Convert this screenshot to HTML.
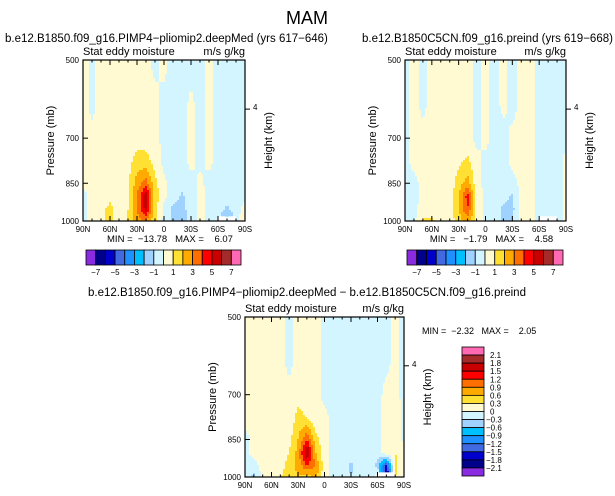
<!DOCTYPE html>
<html><head><meta charset="utf-8"><style>
body{margin:0;background:#fff}
svg{display:block;font-family:"Liberation Sans",sans-serif}
text{white-space:pre}
</style></head><body>
<svg id="fig" width="615" height="496" viewBox="0 0 615 496">
<text x="307" y="24" font-size="18" text-anchor="middle">MAM</text>
<text x="5" y="42" font-size="11.5">b.e12.B1850.f09_g16.PIMP4−pliomip2.deepMed (yrs 617−646)</text>
<text x="362" y="42" font-size="11.5">b.e12.B1850C5CN.f09_g16.preind (yrs 619−668)</text>
<text x="307" y="296" font-size="11.5" text-anchor="middle">b.e12.B1850.f09_g16.PIMP4−pliomip2.deepMed − b.e12.B1850C5CN.f09_g16.preind</text>
<text x="422" y="334" font-size="9">MIN =  −2.32   MAX =    2.05</text>
</svg>
<script>
const lats=[90,80,70,60,50,40,30,20,10,0,-10,-20,-30,-40,-50,-60,-70,-80,-90];
const levels=[500,600,700,775,850,900,950,1000];
const xTickLabels=["90N","60N","30N","0","30S","60S","90S"];
const yTickLabels=[500,700,850,1000];
const colors=["#8a2be2","#00008b","#0000cd","#4169e1","#1e90ff","#00bfff","#a0d2ff","#d2f5ff","#fffad2","#ffe033","#ffaa00","#ff6e00","#ff0000","#c80000","#a52a2a","#ff69b4"];
const barTop=["−7","−5","−3","−1","1","3","5","7"];
const barDiff=["2.1","1.8","1.5","1.2","0.9","0.6","0.3","0","−0.3","−0.6","−0.9","−1.2","−1.5","−1.8","−2.1"];
const fieldA=[
[0.4,-0.3,0.4,0.4,0.4,0.4,0.4,0.3,-0.3,0.3,-0.4,-0.4,-0.4,-0.4,0.2,-0.4,-0.4,-0.4,-0.4],
[0.4,-0.3,0.4,0.4,0.4,0.4,0.4,0.3,0.3,-0.3,-0.4,-0.4,0.2,-0.4,0.3,-0.4,-0.4,-0.4,-0.4],
[0.4,0.3,0.4,0.4,0.4,0.4,0.5,0.5,0.3,-0.3,-0.4,-0.4,0.3,-0.4,0.3,-0.4,-0.4,-0.4,-0.4],
[0.3,0.3,0.4,0.4,0.5,0.6,1.5,1.4,0.6,-0.3,-0.4,-0.4,0.3,-0.3,0.3,-0.4,-0.4,-0.4,-0.4],
[0.2,0.3,0.4,0.5,0.6,0.8,2.5,3.5,1.3,0.2,-0.4,-0.5,-0.4,0.3,-0.4,-0.4,-0.4,-0.5,-0.3],
[-0.3,0.3,0.5,0.8,0.6,0.8,3,6,1.5,0.3,-0.6,-1.2,-0.5,0.3,-0.3,-0.4,-0.7,-0.5,-0.3],
[-0.3,0.4,0.8,1.2,0.7,1.0,3,5.5,1.5,-0.3,-1.2,-1.3,-0.6,0.3,-0.3,-0.4,-1.2,-0.5,0.5],
[-0.3,0.3,0.8,1.3,0.6,1.1,2.5,3,1.2,-0.4,-1.2,-1.3,-0.8,0.3,-0.3,-0.4,-3,-0.3,0.6]];
const fieldB=[
[-0.3,0.4,-0.3,0.4,0.4,0.4,0.4,0.4,-0.3,0.3,-0.4,0.3,-0.4,0.3,0.3,-0.4,-0.4,-0.4,-0.4],
[-0.3,0.4,-0.3,0.4,0.4,0.4,0.4,0.4,-0.3,0.3,-0.4,0.3,-0.4,0.3,0.3,-0.4,-0.4,-0.4,-0.4],
[-0.3,0.3,0.3,0.4,0.4,0.4,0.4,0.4,-0.3,0.3,-0.4,-0.4,0.3,0.3,0.3,-0.4,-0.4,-0.4,-0.3],
[-0.3,0.3,0.3,0.4,0.4,0.4,0.8,1.2,0.3,-0.3,-0.4,-0.4,0.3,0.3,0.3,-0.4,-0.4,-0.4,0.3],
[-0.3,-0.3,0.3,0.4,0.4,0.4,1.5,2.5,0.4,-0.3,-0.4,-0.4,-0.4,0.3,0.3,-0.4,-0.4,-0.4,0.3],
[-0.3,-0.3,0.3,0.4,0.4,0.4,2,4.5,0.6,-0.3,-0.4,-0.6,-1.2,0.3,0.3,-0.4,-0.5,-0.4,0.3],
[-0.3,-0.3,0.4,0.5,0.4,0.4,2,4,0.8,-0.3,-0.5,-1.2,-1.3,0.3,0.3,-0.4,-0.6,-0.4,0.3],
[-0.3,-0.3,1.2,1.2,0.4,0.4,1.5,2.5,0.6,-0.3,-0.5,-1.1,-1.2,0.3,0.3,-0.4,-0.4,-0.4,0.3]];
const fieldD=[
[0.1,0.1,0.1,0.1,0.1,-0.1,0.1,0.1,0.1,-0.1,-0.1,-0.1,-0.1,-0.1,-0.1,-0.1,-0.1,0.1,-0.1],
[0.1,0.1,0.1,0.1,0.1,-0.1,0.1,0.1,0.1,-0.1,-0.1,-0.1,-0.1,-0.1,-0.1,-0.1,-0.1,0.1,-0.1],
[0.1,0.1,0.1,0.1,0.1,0.1,0.2,0.1,0.1,-0.1,-0.1,-0.1,-0.1,-0.1,-0.1,-0.1,0.1,0.1,-0.1],
[0.1,0.1,0.1,0.1,0.1,0.1,0.4,0.3,0.1,0.1,-0.1,-0.1,-0.1,-0.1,-0.1,-0.1,0.1,0.2,-0.1],
[-0.1,0.1,0.1,0.1,0.1,0.2,0.6,1.2,0.4,0.1,-0.1,-0.1,-0.1,-0.1,-0.1,-0.1,0.1,0.2,-0.1],
[-0.1,0.1,0.1,0.1,0.1,0.3,0.7,1.9,0.6,0.1,-0.1,-0.1,-0.1,-0.1,-0.1,-0.1,0.2,0.3,0.1],
[-0.1,-0.1,0.1,0.3,0.2,0.4,0.7,1.2,0.9,0.1,-0.1,-0.1,-0.4,-0.1,-0.1,-0.4,-1.5,0.4,0.1],
[-0.1,-0.4,0.1,0.3,0.3,0.4,0.6,0.4,0.7,0.1,-0.1,-0.1,-0.3,-0.1,-0.1,0.1,-2.3,0.3,0.1]];

const NS="http://www.w3.org/2000/svg";
const svg=document.getElementById('fig');
function mk(tag,attrs,parent){const e=document.createElementNS(NS,tag);for(const k in attrs)e.setAttribute(k,attrs[k]);(parent||svg).appendChild(e);return e;}
function txt(s,x,y,size,anchor,parent){const t=mk('text',{x:x,y:y,'font-size':size,'text-anchor':anchor||'start'},parent);t.textContent=s;return t;}

function sample(field,lat,p){
  const fx=Math.max(0,Math.min(18,(90-lat)/10)), i=Math.min(17,Math.floor(fx)), tx=fx-i;
  const lp=Math.log(p); let j=0;
  while(j<levels.length-2 && Math.log(levels[j+1])<lp) j++;
  const l0=Math.log(levels[j]), l1=Math.log(levels[j+1]);
  const ty=Math.max(0,Math.min(1,(lp-l0)/(l1-l0)));
  const a=field[j][i]*(1-tx)+field[j][i+1]*tx, b=field[j+1][i]*(1-tx)+field[j+1][i+1]*tx;
  return a*(1-ty)+b*ty;
}
function binTop(v){return Math.max(0,Math.min(15,Math.floor(v)+8));}
function binDiff(v){return Math.max(0,Math.min(15,Math.floor((v+2.1)/0.3+1e-9)+1));}

function panel(name,field,binf,x0,y0,w,h,minmax){
  const g=mk('g',{});
  
  
  const xs=lat=>x0+(90-lat)/180*w;
  const ys=p=>y0+(Math.log(p)-Math.log(500))/(Math.log(1000)-Math.log(500))*h;
  const bg=mk('rect',{x:x0,y:y0,width:w,height:h,fill:colors[7]},g);
  
  
  const step=2;
  const n=Math.ceil(w/step);
  for(let py=0;py<h;py+=step){
    const yc=y0+py+step/2;
    const p=Math.exp(Math.log(500)+(yc-y0)/h*(Math.log(1000)-Math.log(500)));
    const hh=Math.min(step,h-py)+0.5;
    let run=-1,rx=0;
    for(let k=0;k<=n;k++){
      const px=k*step;
      let b=-2;
      if(k<n){const lat=90-(px+step/2)/w*180;b=binf(sample(field,lat,p));}
      if(b!==run){
        if(run>=0){const r=mk('rect',{x:x0+rx,y:y0+py,width:Math.min(px,w)-rx+0.5,height:hh,fill:colors[run]},g);
          
          }
        run=b;rx=px;
      }
    }
  }
  const wb=mk('rect',{x:xs(-60),y:ys(980),width:xs(-80)-xs(-60),height:ys(1000)-ys(980),fill:'#fff'},g);
  
  
  const fr=mk('rect',{x:x0,y:y0,width:w,height:h,fill:'none',stroke:'#000','stroke-width':1.2},g);
  
  
  for(let lat=90;lat>=-90;lat-=10){
    const major=lat%30===0, L=major?5:2.5, x=xs(lat);
    mk('line',{x1:x,y1:y0+h,x2:x,y2:y0+h-L,stroke:'#000'},g);
    mk('line',{x1:x,y1:y0,x2:x,y2:y0+L,stroke:'#000'},g);
  }
  xTickLabels.forEach((s,k)=>{const t=txt(s,xs(90-30*k),y0+h+11,8,'middle',g);
    
    });
  yTickLabels.forEach(p=>{const y=ys(p);mk('line',{x1:x0,y1:y,x2:x0+5,y2:y,stroke:'#000'},g);
    const t=txt(String(p),x0-4,y+3,8,'end',g);
    
    });
  const y4=y0+0.305*h;
  mk('line',{x1:x0+w,y1:y4,x2:x0+w+5,y2:y4,stroke:'#000'},g);
  txt('4',x0+w+8,y4+1,8,'start',g);
  const pt=txt('Pressure (mb)',0,0,11,'middle',g);
  pt.setAttribute('transform',`translate(${x0-29},${y0+h/2}) rotate(-90)`);
  
  
  const ht=txt('Height (km)',0,0,11,'middle',g);
  ht.setAttribute('transform',`translate(${x0+w+27},${y0+h/2}) rotate(-90)`);
  
  
  const st=txt('Stat eddy moisture',x0,y0-5,11,'start',g);
  
  
  const un=txt('m/s g/kg',x0+w,y0-5,11,'end',g);
  
  
  if(minmax){const m=txt(minmax,x0+w/2+6,y0+h+21,9.5,'middle',g);
    
    }
}
function hbar(name,x0,y0,w,h){
  const g=mk('g',{});
  
  
  const bw=w/16;
  colors.forEach((c,k)=>{const r=mk('rect',{x:x0+k*bw,y:y0,width:bw,height:h,fill:c,stroke:'#000','stroke-width':0.8},g);
    
    });
  barTop.forEach((s,k)=>{const t=txt(s,x0+(1+2*k)*bw,y0+h+10,8,'middle',g);
    
    });
}
function vbar(name,x0,y0,w,h){
  const g=mk('g',{});
  
  
  const bh=h/16;
  colors.slice().reverse().forEach((c,k)=>{const r=mk('rect',{x:x0,y:y0+k*bh,width:w,height:bh,fill:c,stroke:'#000','stroke-width':0.8},g);
    
    });
  barDiff.forEach((s,k)=>{const t=txt(s,x0+w+(s.startsWith('−')?2:6),y0+(k+1)*bh+3,8,'start',g);
    
    });
}
panel('left-panel',fieldA,binTop,83,60,162,161,'MIN =  −13.78   MAX =    6.07');
panel('right-panel',fieldB,binTop,405,60,161,161,'MIN =   −1.79   MAX =    4.58');
panel('diff-panel',fieldD,binDiff,245,317,159,160,null);
hbar('left-colorbar',86,250,155,15);
hbar('right-colorbar',407,250,156,15);
vbar('diff-colorbar',462,347,22,129);
</script>
</body></html>
